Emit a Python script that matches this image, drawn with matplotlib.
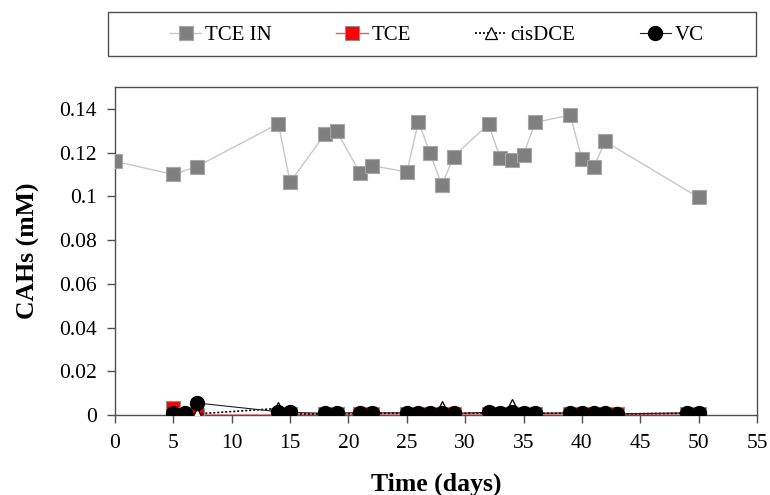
import matplotlib.pyplot as plt
from matplotlib.patches import Rectangle

# TCE de entrada (mM)
dias_in = [0, 5, 7, 14, 15, 18, 19, 21, 22, 25, 26, 27, 28, 29, 32, 33, 34, 35, 36, 39, 40, 41, 42, 50]
tce_in = [0.116, 0.110, 0.1136, 0.1332, 0.1065, 0.1285, 0.1297, 0.1106, 0.1141, 0.1111, 0.1342, 0.1197,
          0.105, 0.1182, 0.1330, 0.1175, 0.1166, 0.1191, 0.1338, 0.1372, 0.1170, 0.1134, 0.1251, 0.0995]

# efluente
dias = [5, 6, 7, 14, 15, 18, 19, 21, 22, 25, 26, 27, 28, 29, 32, 33, 34, 35, 36, 39, 40, 41, 42, 43, 49, 50]
tce = [0.003, 0.0003, 0.0, 0.0, 0.0003, 0.0003, 0.0003, 0.0003, 0.0003, 0.0005, 0.0003, 0.0003, 0.0003,
       0.0003, 0.0005, 0.0005, 0.0005, 0.0003, 0.0003, 0.0005, 0.0005, 0.0003, 0.0005, 0.0003, 0.0005, 0.0005]
cisdce = [0.0, 0.0, 0.0005, 0.003, 0.0005, 0.0005, 0.0005, 0.0008, 0.0008, 0.0008, 0.0005, 0.0008, 0.0038,
          0.0008, 0.0008, 0.0008, 0.0047, 0.0008, 0.0008, 0.0008, 0.0008, 0.0008, 0.0008, 0.0005, 0.0008, 0.0008]
vc = [0.0008, 0.0008, 0.0055, 0.0015, 0.0012, 0.0008, 0.001, 0.001, 0.001, 0.001, 0.0008, 0.001, 0.001,
      0.0008, 0.0012, 0.001, 0.0012, 0.001, 0.0008, 0.001, 0.001, 0.001, 0.0008, 0.0005, 0.001, 0.001]

yticks = [0, 0.02, 0.04, 0.06, 0.08, 0.1, 0.12, 0.14]
ytick_labels = ['0', '0.02', '0.04', '0.06', '0.08', '0.1', '0.12', '0.14']

plt.rcParams['font.family'] = ['Liberation Serif', 'DejaVu Serif']

fig = plt.figure(figsize=(7.7, 4.95), dpi=100)
W, H = 770, 495
ax = fig.add_axes([115 / W, 1 - 415 / H, (757 - 115) / W, (415 - 87) / H])

ax.plot(dias_in, tce_in, color='#c8c8c8', linewidth=1.0, marker='s', markersize=9.5,
        markerfacecolor='#7f7f7f', markeredgecolor='#a6a6a6', markeredgewidth=0.8, label='TCE IN', zorder=3)
ax.plot(dias, tce, color='#e06060', linewidth=1.0, marker='s', markersize=9.5,
        markerfacecolor='#ff0000', markeredgecolor='#909090', markeredgewidth=0.8, label='TCE', zorder=4)
ax.plot(dias, cisdce, color='black', linewidth=1.2, linestyle=(0, (1.2, 1.2)), marker='^', markersize=8.5,
        markerfacecolor='white', markeredgecolor='black', markeredgewidth=0.9, label='cisDCE', zorder=5)
ax.plot(dias, vc, color='#202020', linewidth=0.8, marker='o', markersize=10,
        markerfacecolor='black', markeredgecolor='black', label='VC', zorder=6)

ax.set_xlim(0, 55)
ax.set_ylim(0, 0.15)
ax.set_xticks(range(0, 56, 5))
ax.set_yticks(yticks)
ax.set_yticklabels(ytick_labels)
ax.tick_params(axis='both', direction='out', length=6, width=1, color='#505050', labelsize=15.5)
ax.tick_params(axis='x', pad=8)
ax.tick_params(axis='y', pad=7)
for s in ax.spines.values():
    s.set_color('#505050')
    s.set_linewidth(1.0)

ax.set_xlabel('Time (days)', fontsize=18.5, fontweight='bold', labelpad=14)
ax.set_ylabel('CAHs (mM)', fontsize=18.5, fontweight='bold', labelpad=14)

# recuadro de la leyenda
fig.patches.append(Rectangle((108 / W, 1 - 56 / H), (756 - 108) / W, 44 / H, transform=fig.transFigure,
                             fill=False, edgecolor='#505050', linewidth=1.0))
leg = fig.legend(loc='center', bbox_to_anchor=(170 / W, 1 - 51 / H, (704 - 170) / W, 32 / H),
                 bbox_transform=fig.transFigure, mode='expand', ncol=4, fontsize=15, frameon=False,
                 handlelength=1.5, borderpad=0.0, handletextpad=0.2, borderaxespad=0.0)

plt.savefig('out.png', dpi=100)
plt.close(fig)
